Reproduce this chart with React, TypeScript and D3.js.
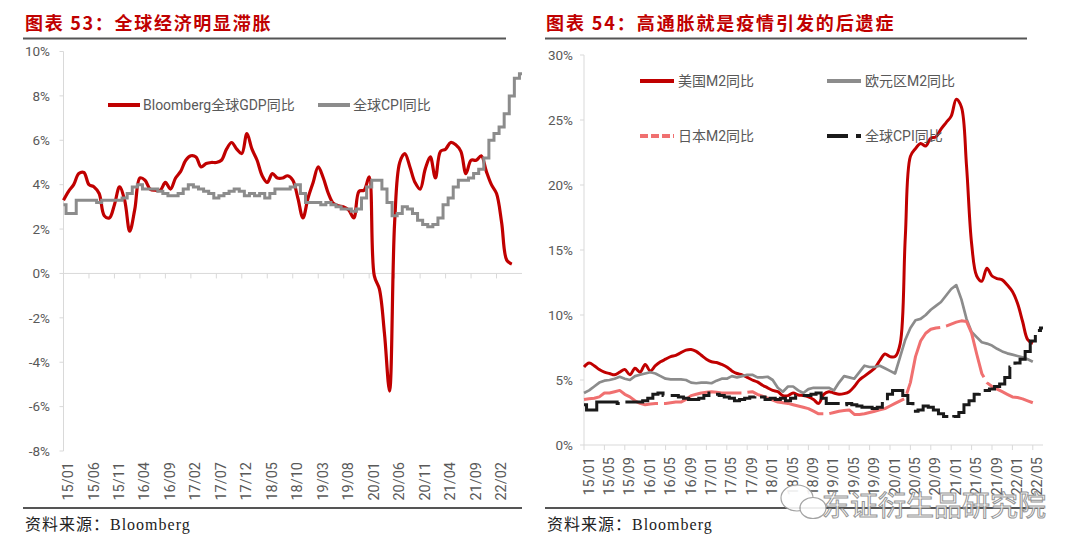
import React from "react";
import * as d3 from "d3";

// ---------- data ----------
const leftTicks = ["15/01","15/06","15/11","16/04","16/09","17/02","17/07","17/12","18/05","18/10","19/03","19/08","20/01","20/06","20/11","21/04","21/09","22/02"];
const rightTicks = ["15/01","15/05","15/09","16/01","16/05","16/09","17/01","17/05","17/09","18/01","18/05","18/09","19/01","19/05","19/09","20/01","20/05","20/09","21/01","21/05","21/09","22/01","22/05"];
const leftYTicks = [-8, -6, -4, -2, 0, 2, 4, 6, 8, 10];
const rightYTicks = [0, 5, 10, 15, 20, 25, 30];

// monthly from 2015/01
const globalGDP = [
  3.3, 3.7, 4.0, 4.5, 4.55, 4.0, 3.9, 3.6, 2.6, 2.5,
  3.1, 3.9, 3.3, 1.9, 2.9, 4.3, 4.2, 3.8, 3.75, 3.75,
  4.1, 3.8, 4.3, 4.6, 5.1, 5.3, 5.25, 4.8, 4.95, 5.0,
  5.0, 5.1, 5.6, 5.9, 5.6, 5.4, 6.3, 5.6, 5.1, 4.4,
  4.1, 4.5, 4.3, 4.3, 4.4, 4.2, 3.4, 2.5, 3.4, 4.1,
  4.8, 4.3, 3.6, 3.15, 3.05, 3.0, 2.85, 2.5, 3.7, 3.75,
  4.35, -0.1, -0.7, -2.7, -5.3, 2.3, 5.0, 5.4, 4.8, 4.1,
  3.8, 4.7, 5.25, 4.3, 5.5, 5.6, 5.9, 5.8, 5.5, 4.5,
  5.1, 5.1, 5.3, 4.6, 4.0, 3.6, 2.3, 0.6, 0.42,
];
const globalCPI = [
  3.1, 2.7, 2.7, 3.3, 3.3, 3.3, 3.3, 3.2, 3.3, 3.3,
  3.3, 3.3, 3.4, 3.6, 3.9, 4.0, 3.8, 3.8, 3.8, 3.7,
  3.6, 3.5, 3.5, 3.6, 3.8, 4.0, 3.9, 3.8, 3.7, 3.6,
  3.4, 3.5, 3.6, 3.7, 3.8, 3.7, 3.5, 3.6, 3.5, 3.6,
  3.4, 3.6, 3.8, 3.8, 3.8, 3.9, 4.0, 3.6, 3.2, 3.2,
  3.2, 3.1, 3.2, 3.1, 3.0, 2.9, 2.9, 2.8, 2.9, 3.4,
  3.9, 4.2, 4.2, 3.8, 3.2, 2.6, 2.7, 3.0, 2.9, 2.7,
  2.4, 2.2, 2.1, 2.2, 2.5, 3.1, 3.4, 3.9, 4.2, 4.2,
  4.3, 4.5, 4.7, 5.2, 6.0, 6.3, 6.6, 7.2, 8.0, 8.8, 9.0,
];
const usM2 = [
  6.0, 6.3, 6.1, 5.8, 5.6, 5.5, 5.4, 5.6, 5.8, 5.4,
  5.9, 5.6, 6.2, 5.7, 6.1, 6.4, 6.6, 6.8, 6.9, 7.1,
  7.3, 7.35, 7.2, 6.9, 6.6, 6.4, 6.35, 6.2, 6.0, 5.7,
  5.5, 5.4, 5.2, 5.0, 4.85, 4.6, 4.4, 4.2, 4.1, 3.8,
  3.8, 4.0, 3.85, 3.8, 3.7, 3.5, 3.2, 3.9, 4.1, 4.0,
  3.9, 3.95, 4.1, 4.5, 5.0, 5.3, 5.6, 5.9, 6.5, 7.0,
  6.8, 6.8, 7.8, 16.0, 22.2, 22.8, 23.2, 23.0, 23.6, 23.7,
  24.3, 24.8, 25.3, 26.6, 26.0, 21.5, 15.5, 13.0, 12.6, 13.6,
  13.0, 12.8, 12.7, 12.3, 11.8, 10.9, 9.5, 8.1, 7.8,
];
const euroM2 = [
  4.0, 4.2, 4.5, 4.8, 4.95, 5.0, 5.1, 5.25, 5.1, 5.0,
  5.3, 5.4, 5.5, 5.6, 5.5, 5.3, 5.1, 5.05, 5.05, 5.05,
  5.0, 4.8, 4.75, 4.8, 4.8, 4.75, 4.95, 5.1, 5.1, 5.3,
  5.2, 5.3, 5.4, 5.4, 5.2, 5.2, 5.25, 5.0, 4.4, 4.1,
  4.5, 4.5, 4.2, 4.0, 4.3, 4.4, 4.4, 4.4, 4.4, 4.2,
  4.8, 5.3, 5.2, 5.1, 5.6, 6.1, 6.0, 6.0, 6.1, 5.9,
  5.7, 5.5, 6.8, 8.1, 9.0, 9.6, 9.7, 10.0, 10.4, 10.7,
  11.0, 11.5, 12.0, 12.3, 11.2, 9.7, 8.7, 8.3, 7.9, 7.8,
  7.65, 7.4, 7.2, 7.05, 6.95, 6.85, 6.75, 6.6, 6.4,
];
const japanM2 = [
  3.5, 3.55, 3.6, 3.7, 4.0, 4.0, 4.1, 4.2, 3.9, 3.7,
  3.4, 3.2, 3.1, 3.15, 3.2, 3.2, 3.2, 3.25, 3.3, 3.3,
  3.5, 3.8, 3.9, 4.0, 4.05, 4.1, 4.05, 4.0, 4.0, 4.0,
  4.0, 4.0, 4.05, 4.1, 3.9, 3.75, 3.6, 3.45, 3.3, 3.25,
  3.2, 3.1, 3.0, 2.9, 2.8, 2.6, 2.4, 2.4, 2.4, 2.5,
  2.6, 2.65, 2.7, 2.35, 2.35, 2.4, 2.5, 2.6, 2.7, 2.8,
  3.0, 3.2, 3.4, 3.6, 4.8, 6.8, 8.0, 8.6, 8.9, 9.0,
  9.05, 9.15, 9.3, 9.45, 9.55, 9.5, 8.6, 7.0, 5.5, 4.8,
  4.5, 4.3, 4.1, 3.9, 3.7, 3.65, 3.55, 3.4, 3.25,
];

// ---------- styling ----------
const RED = "#C00000";
const GRAY = "#8C8C8C";
const PINK = "#F07070";
const BLACK = "#1A1A1A";
const AXIS = "#D9D9D9";
const LABEL = "#595959";
const FONT = "Roboto, 'Noto Sans CJK SC', sans-serif";
const CJK = "'Noto Sans CJK SC', sans-serif";
const SERIF = "'Liberation Serif', 'Noto Sans CJK SC', serif";

const monthIndex = (s: string) =>
  (parseInt(s.slice(0, 2), 10) - 15) * 12 + parseInt(s.slice(3), 10) - 1;

export default function App() {
  const W = 1080;
  const H = 552;

  const lx = d3.scaleLinear().domain([0, 90]).range([63.5, 522]);
  const ly = d3.scaleLinear().domain([-8, 10]).range([451, 51.5]);
  const rx = d3.scaleLinear().domain([0, 90]).range([584, 1043]);
  const ry = d3.scaleLinear().domain([0, 30]).range([445, 55]);

  const lSmooth = d3.line<number>().x((_, i) => lx(i)).y((d) => ly(d)).curve(d3.curveCatmullRom.alpha(0.5));
  const lStep = d3.line<number>().x((_, i) => lx(i)).y((d) => ly(d)).curve(d3.curveStep);
  const rSmooth = d3.line<number>().x((_, i) => rx(i)).y((d) => ry(d)).curve(d3.curveCatmullRom.alpha(0.5));
  const rLin = d3.line<number>().x((_, i) => rx(i)).y((d) => ry(d));
  const rStep = d3.line<number>().x((_, i) => rx(i)).y((d) => ry(d)).curve(d3.curveStep);

  return (
    <svg
      width={W}
      height={H}
      style={{ position: "absolute", left: 0, top: 0, background: "#fff" }}
    >
      <rect x={0} y={0} width={W} height={H} fill="#fff" />

      {/* ---------- LEFT CHART ---------- */}
      <text x={25} y={30} fill={RED} fontFamily={CJK} fontWeight={700} fontSize={18} letterSpacing={1.7}>
        图表 53：全球经济明显滞胀
      </text>
      <line x1={23} x2={506} y1={38.5} y2={38.5} stroke="#555" strokeWidth={2} />

      {/* y axis */}
      <line x1={lx(0)} x2={lx(0)} y1={ly(10)} y2={ly(-8)} stroke={AXIS} strokeWidth={1} />
      {leftYTicks.map((t) => (
        <g key={"ly" + t}>
          <line x1={lx(0) - 4} x2={lx(0)} y1={ly(t)} y2={ly(t)} stroke={AXIS} />
          <text x={50} y={ly(t)} dy="0.35em" textAnchor="end" fill={LABEL} fontFamily={FONT} fontSize={13.5}>
            {t + "%"}
          </text>
        </g>
      ))}
      {/* x axis at 0 */}
      <line x1={lx(0)} x2={lx(90)} y1={ly(0)} y2={ly(0)} stroke={AXIS} strokeWidth={1} />
      {leftTicks.map((t) => {
        const x = lx(monthIndex(t));
        return (
          <g key={"lx" + t}>
            <line x1={x} x2={x} y1={ly(0)} y2={ly(0) + 5} stroke={AXIS} />
            <text
              transform={`translate(${x + 4.5},462) rotate(-90)`}
              textAnchor="end"
              dy="0.35em"
              fill={LABEL}
              fontFamily={FONT}
              fontSize={14.5}
            >
              {t}
            </text>
          </g>
        );
      })}

      {/* series */}
      <path d={lSmooth(globalGDP) || ""} fill="none" stroke={RED} strokeWidth={3.2} strokeLinejoin="round" />
      <path d={lStep(globalCPI) || ""} fill="none" stroke={GRAY} strokeWidth={3} />

      {/* legend */}
      <line x1={108} x2={140} y1={105} y2={105} stroke={RED} strokeWidth={4} />
      <text x={143} y={105} dy="0.35em" fill={LABEL} fontFamily={FONT} fontSize={14}>
        Bloomberg全球GDP同比
      </text>
      <line x1={318} x2={350} y1={105} y2={105} stroke={GRAY} strokeWidth={4} />
      <text x={353} y={105} dy="0.35em" fill={LABEL} fontFamily={FONT} fontSize={14}>
        全球CPI同比
      </text>

      <line x1={23} x2={522} y1={508} y2={508} stroke="#555" strokeWidth={2} />
      <text x={25} y={530} fill="#222" fontFamily={SERIF} fontSize={16} letterSpacing={1}>
        资料来源：Bloomberg
      </text>

      {/* ---------- RIGHT CHART ---------- */}
      <text x={546} y={30} fill={RED} fontFamily={CJK} fontWeight={700} fontSize={18} letterSpacing={1.9}>
        图表 54：高通胀就是疫情引发的后遗症
      </text>
      <line x1={545} x2={1027} y1={38.5} y2={38.5} stroke="#555" strokeWidth={2} />

      <line x1={rx(0)} x2={rx(0)} y1={ry(30)} y2={ry(0)} stroke={AXIS} strokeWidth={1} />
      {rightYTicks.map((t) => (
        <g key={"ry" + t}>
          <line x1={rx(0) - 4} x2={rx(0)} y1={ry(t)} y2={ry(t)} stroke={AXIS} />
          <text x={573} y={ry(t)} dy="0.35em" textAnchor="end" fill={LABEL} fontFamily={FONT} fontSize={13.5}>
            {t + "%"}
          </text>
        </g>
      ))}
      <line x1={rx(0)} x2={rx(90)} y1={ry(0)} y2={ry(0)} stroke={AXIS} strokeWidth={1} />
      {rightTicks.map((t) => {
        const x = rx(monthIndex(t));
        return (
          <g key={"rx" + t}>
            <line x1={x} x2={x} y1={ry(0)} y2={ry(0) + 5} stroke={AXIS} />
            <text
              transform={`translate(${x + 4.5},457) rotate(-90)`}
              textAnchor="end"
              dy="0.35em"
              fill={LABEL}
              fontFamily={FONT}
              fontSize={14.5}
            >
              {t}
            </text>
          </g>
        );
      })}

      <path d={rSmooth(usM2) || ""} fill="none" stroke={RED} strokeWidth={3} strokeLinejoin="round" />
      <path d={rLin(euroM2) || ""} fill="none" stroke={GRAY} strokeWidth={2.7} strokeLinejoin="round" />
      <path d={rLin(japanM2) || ""} fill="none" stroke={PINK} strokeWidth={3} strokeDasharray="80,6" strokeLinejoin="round" />
      <path d={rStep(globalCPI) || ""} fill="none" stroke={BLACK} strokeWidth={3} strokeDasharray="50,7" />

      {/* legend */}
      <line x1={640} x2={674} y1={81} y2={81} stroke={RED} strokeWidth={4} />
      <text x={678} y={81} dy="0.35em" fill={LABEL} fontFamily={FONT} fontSize={14}>美国M2同比</text>
      <line x1={827} x2={861} y1={81} y2={81} stroke={GRAY} strokeWidth={4} />
      <text x={865} y={81} dy="0.35em" fill={LABEL} fontFamily={FONT} fontSize={14}>欧元区M2同比</text>
      <line x1={640} x2={674} y1={136} y2={136} stroke={PINK} strokeWidth={4} strokeDasharray="8,3" />
      <text x={678} y={136} dy="0.35em" fill={LABEL} fontFamily={FONT} fontSize={14}>日本M2同比</text>
      <line x1={827} x2={861} y1={136} y2={136} stroke={BLACK} strokeWidth={4} strokeDasharray="21,8" />
      <text x={865} y={136} dy="0.35em" fill={LABEL} fontFamily={FONT} fontSize={14}>全球CPI同比</text>

      <line x1={545} x2={1044} y1={508} y2={508} stroke="#555" strokeWidth={2} />
      <text x={547} y={530} fill="#222" fontFamily={SERIF} fontSize={16} letterSpacing={1}>
        资料来源：Bloomberg
      </text>

      {/* watermark */}
      <g opacity={0.9}>
        <ellipse cx={797} cy={498} rx={16} ry={13} fill="#fff" stroke="#9a9a9a" strokeWidth={1.2} />
        <ellipse cx={813} cy={508} rx={13} ry={10.5} fill="#fff" stroke="#9a9a9a" strokeWidth={1.2} />
        <text x={822} y={516} fill="#fff" stroke="#8a8a8a" strokeWidth={1} fontFamily={CJK} fontSize={28}>
          东证衍生品研究院
        </text>
      </g>
    </svg>
  );
}
